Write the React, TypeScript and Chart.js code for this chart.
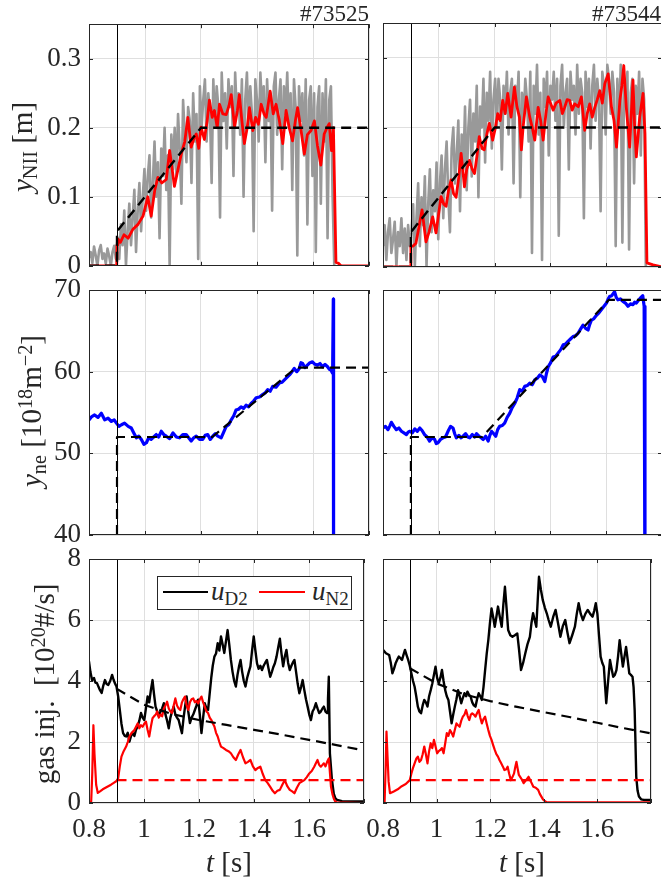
import React, { useEffect, useRef } from "react";
import { Chart, registerables } from "chart.js";
Chart.register(...registerables);

const SERIF = '"Liberation Serif", "Times New Roman", serif';
const AXIS_COLOR = "#262626";
const GRID_COLOR = "#dfdfdf";

const X_MIN = 0.8;
const X_MAX = 1.8;
const T_ONSET = 0.9;
const xTicks = [0.8, 1.0, 1.2, 1.4, 1.6, 1.8];
const xTickLabels = ["0.8", "1", "1.2", "1.4", "1.6", ""];
const yTicksNII = [0, 0.1, 0.2, 0.3];
const yTickLabelsNII = ["0", "0.1", "0.2", "0.3"];
const yTicksNe = [40, 50, 60, 70];
const yTicksGas = [0, 2, 4, 6, 8];
const shots = ["#73525", "#73544"];

// raw N II front position samples (gray), sampled every 6 ms from 0.8 s
const GRAY_T0 = 0.8;
const GRAY_DT = 0.006;
const grayNII_73525 = [
  0.012, 0.02, 0.004, 0.028, 0.015, 0.0, 0.022, 0.03, 0.01, 0.018, 0.003, 0.025, 0.014, 0.0, 0.02, 0.029, 0.01,
  0.04, 0.01, 0.06, 0.03, 0.08, 0.0, 0.05, 0.09, 0.03, 0.07, 0.11, 0.02, 0.08, 0.12, 0.05, 0.1, 0.14,
  0.08, 0.13, 0.16, 0.07, 0.12, 0.18, 0.1, 0.15, 0.04, 0.17, 0.13, 0.2, 0.11, 0.16, 0.0, 0.19, 0.14,
  0.2, 0.13, 0.22, 0.17, 0.09, 0.24, 0.19, 0.15, 0.23, 0.21, 0.12, 0.25, 0.18, 0.22, 0.01, 0.26, 0.2,
  0.24, 0.27, 0.18, 0.25, 0.22, 0.12, 0.27, 0.2, 0.26, 0.23, 0.07, 0.28, 0.21, 0.25, 0.17, 0.27, 0.23,
  0.26, 0.13, 0.28, 0.22, 0.25, 0.19, 0.27, 0.1, 0.24, 0.28, 0.2, 0.26, 0.22, 0.05, 0.27, 0.24, 0.18,
  0.28, 0.23, 0.26, 0.15, 0.27, 0.21, 0.25, 0.08, 0.26, 0.28, 0.19, 0.24, 0.27, 0.14, 0.26, 0.22, 0.28,
  0.2, 0.25, 0.11, 0.27, 0.23, 0.015, 0.26, 0.21, 0.25, 0.16, 0.27, 0.06, 0.24, 0.26, 0.13, 0.25, 0.02,
  0.23, 0.26, 0.09, 0.25, 0.18, 0.27, 0.04, 0.24, 0.26, 0.1, 0.0,
];
const grayNII_73544 = [
  0.03, 0.06, 0.01, 0.05, 0.07, 0.02, 0.04, 0.065, 0.0, 0.05, 0.03, 0.07, 0.02, 0.055, 0.01, 0.06, 0.03,
  0.05, 0.09, 0.0, 0.07, 0.12, 0.03, 0.1, 0.06, 0.13, 0.0, 0.09, 0.14, 0.05, 0.11, 0.08, 0.15, 0.04,
  0.12, 0.16, 0.07, 0.14, 0.18, 0.1, 0.05, 0.17, 0.2, 0.12, 0.16, 0.21, 0.08, 0.19, 0.14, 0.23, 0.11,
  0.2, 0.24, 0.13, 0.22, 0.18, 0.26, 0.1, 0.23, 0.2, 0.27, 0.15, 0.25, 0.21, 0.28, 0.17, 0.24, 0.27,
  0.2, 0.27, 0.24, 0.14, 0.26, 0.22, 0.28, 0.19, 0.25, 0.27, 0.12, 0.26, 0.23, 0.28, 0.1, 0.25, 0.21,
  0.27, 0.24, 0.18, 0.28, 0.02, 0.26, 0.22, 0.29, 0.19, 0.25, 0.01, 0.27, 0.23, 0.28, 0.16, 0.26, 0.24,
  0.28, 0.21, 0.27, 0.045, 0.26, 0.29, 0.2, 0.25, 0.27, 0.14, 0.28, 0.24, 0.26, 0.19, 0.29, 0.22, 0.27,
  0.25, 0.07, 0.28, 0.23, 0.27, 0.17, 0.26, 0.29, 0.21, 0.27, 0.24, 0.08, 0.28, 0.26, 0.19, 0.29, 0.27,
  0.22, 0.28, 0.25, 0.03, 0.27, 0.2, 0.29, 0.035, 0.26, 0.23, 0.28, 0.025, 0.25, 0.27, 0.12, 0.26, 0.22,
  0.28, 0.16, 0.27, 0.24, 0.0,
];

// filtered N II front (red), [t, y]
const redNII_73525 = [
  [0.8, 0], [0.899, 0], [0.9, 0.03], [0.903, 0.039], [0.912, 0.034], [0.925, 0.045], [0.94, 0.04],
  [0.957, 0.053], [0.975, 0.06], [0.993, 0.072], [1.01, 0.1], [1.022, 0.072], [1.035, 0.11],
  [1.046, 0.128], [1.06, 0.12], [1.076, 0.125], [1.088, 0.167], [1.097, 0.14], [1.105, 0.115],
  [1.118, 0.14], [1.129, 0.161], [1.142, 0.18], [1.153, 0.215], [1.165, 0.172], [1.175, 0.185],
  [1.183, 0.191], [1.192, 0.17], [1.2, 0.201], [1.212, 0.183], [1.222, 0.21], [1.23, 0.24],
  [1.24, 0.215], [1.248, 0.225], [1.258, 0.2], [1.266, 0.234], [1.278, 0.22], [1.29, 0.219],
  [1.3, 0.232], [1.308, 0.248], [1.32, 0.201], [1.33, 0.225], [1.337, 0.248], [1.346, 0.21],
  [1.355, 0.177], [1.365, 0.2], [1.373, 0.229], [1.385, 0.196], [1.395, 0.215], [1.405, 0.205],
  [1.415, 0.234], [1.425, 0.22], [1.433, 0.215], [1.447, 0.253], [1.458, 0.22], [1.468, 0.234],
  [1.48, 0.21], [1.492, 0.177], [1.504, 0.225], [1.515, 0.2], [1.527, 0.181], [1.537, 0.21],
  [1.545, 0.229], [1.556, 0.2], [1.569, 0.162], [1.58, 0.19], [1.593, 0.196], [1.605, 0.21],
  [1.616, 0.174], [1.628, 0.146], [1.64, 0.191], [1.65, 0.2], [1.658, 0.206], [1.666, 0.167],
  [1.673, 0.2], [1.682, 0.005], [1.69, 0.004], [1.7, 0.0], [1.8, 0.0],
];
const redNII_73544 = [
  [0.8, 0], [0.899, 0], [0.9, 0.03], [0.908, 0.03], [0.918, 0.034], [0.93, 0.06], [0.94, 0.082],
  [0.954, 0.036], [0.965, 0.05], [0.978, 0.072], [0.99, 0.049], [1.008, 0.101], [1.018, 0.09],
  [1.026, 0.087], [1.035, 0.11], [1.044, 0.125], [1.053, 0.105], [1.062, 0.1], [1.072, 0.13],
  [1.08, 0.163], [1.092, 0.115], [1.1, 0.14], [1.11, 0.153], [1.12, 0.14], [1.128, 0.134],
  [1.137, 0.16], [1.145, 0.187], [1.155, 0.17], [1.163, 0.168], [1.172, 0.19], [1.181, 0.206],
  [1.193, 0.182], [1.203, 0.2], [1.211, 0.22], [1.22, 0.21], [1.229, 0.239], [1.238, 0.22],
  [1.247, 0.249], [1.259, 0.215], [1.271, 0.258], [1.28, 0.23], [1.289, 0.215], [1.296, 0.168],
  [1.302, 0.2], [1.314, 0.244], [1.326, 0.215], [1.335, 0.2], [1.344, 0.182], [1.356, 0.229],
  [1.365, 0.21], [1.374, 0.182], [1.384, 0.22], [1.392, 0.244], [1.41, 0.225], [1.42, 0.235],
  [1.434, 0.239], [1.443, 0.22], [1.451, 0.229], [1.46, 0.24], [1.469, 0.239], [1.478, 0.225],
  [1.487, 0.234], [1.5, 0.23], [1.511, 0.244], [1.523, 0.196], [1.532, 0.22], [1.541, 0.234],
  [1.55, 0.215], [1.559, 0.229], [1.568, 0.24], [1.577, 0.253], [1.586, 0.235], [1.595, 0.263],
  [1.607, 0.277], [1.619, 0.229], [1.628, 0.21], [1.637, 0.172], [1.649, 0.239], [1.656, 0.26],
  [1.663, 0.289], [1.672, 0.229], [1.684, 0.172], [1.69, 0.22], [1.696, 0.268], [1.702, 0.2],
  [1.708, 0.158], [1.72, 0.215], [1.732, 0.249], [1.739, 0.191], [1.746, 0.006], [1.768, 0.003],
  [1.8, 0.0],
];
const refNII_73525 = [[0.8, 0], [0.9, 0], [0.9, 0.05], [1.2, 0.2], [1.8, 0.2]];
const refNII_73544 = [[0.8, 0], [0.9, 0], [0.9, 0.05], [1.2, 0.2], [1.8, 0.2]];

// line-integrated density (blue)
const ne_73525 = [
  [0.8, 54.1], [0.81, 54.5], [0.82, 54.7], [0.832, 54.4], [0.844, 54.9], [0.856, 54.1], [0.868, 54.3],
  [0.88, 53.9], [0.89, 54.1], [0.898, 53.7], [0.907, 53.3], [0.916, 53.5], [0.927, 53.7], [0.94, 53.3],
  [0.951, 53.1], [0.96, 52.5], [0.969, 51.9], [0.978, 52.1], [0.987, 51.7], [0.996, 51.1], [1.005, 51.3],
  [1.013, 51.9], [1.022, 51.7], [1.031, 52.0], [1.04, 52.3], [1.049, 52.0], [1.058, 52.7], [1.067, 52.3],
  [1.076, 52.1], [1.088, 51.8], [1.1, 52.5], [1.112, 52.0], [1.123, 51.9], [1.135, 52.3], [1.147, 52.3],
  [1.156, 51.9], [1.165, 51.5], [1.174, 51.9], [1.183, 52.1], [1.195, 51.7], [1.206, 51.7], [1.215, 52.2],
  [1.224, 52.3], [1.233, 51.7], [1.242, 52.1], [1.251, 52.4], [1.26, 52.1], [1.272, 51.9], [1.281, 52.6],
  [1.29, 53.3], [1.299, 53.5], [1.308, 54.1], [1.317, 54.6], [1.325, 55.3], [1.334, 55.4], [1.343, 55.7],
  [1.352, 55.5], [1.361, 55.9], [1.37, 55.7], [1.379, 56.1], [1.388, 56.4], [1.397, 56.8], [1.409, 56.9],
  [1.42, 57.2], [1.429, 57.4], [1.438, 57.8], [1.447, 57.6], [1.456, 58.2], [1.468, 58.1], [1.48, 58.6],
  [1.489, 58.7], [1.498, 59.0], [1.507, 59.3], [1.516, 59.6], [1.525, 60.0], [1.533, 60.4], [1.542, 60.0],
  [1.551, 60.4], [1.557, 61.1], [1.563, 61.0], [1.571, 60.5], [1.58, 60.8], [1.589, 61.1], [1.598, 61.2],
  [1.607, 60.9], [1.616, 60.8], [1.625, 61.0], [1.634, 60.6], [1.643, 60.9], [1.652, 60.6], [1.658, 60.3],
  [1.664, 60.2], [1.67, 59.8], [1.6725, 68.9], [1.6735, 30],
];
const ne_73544 = [
  [0.8, 53.1], [0.809, 53.3], [0.818, 52.9], [0.825, 53.4], [0.83, 53.8], [0.839, 53.3], [0.848, 52.9],
  [0.857, 53.1], [0.866, 52.7], [0.875, 52.5], [0.884, 52.3], [0.89, 52.6], [0.896, 52.7], [0.905, 52.5],
  [0.914, 53.0], [0.923, 52.7], [0.932, 53.1], [0.94, 52.8], [0.949, 52.3], [0.958, 52.0], [0.967, 51.5],
  [0.976, 51.9], [0.985, 51.7], [0.991, 51.2], [0.997, 51.3], [1.006, 51.7], [1.015, 51.9], [1.024, 52.0],
  [1.033, 52.7], [1.042, 53.3], [1.051, 53.1], [1.057, 52.4], [1.063, 51.9], [1.072, 52.2], [1.08, 51.9],
  [1.087, 52.1], [1.096, 52.4], [1.104, 52.0], [1.111, 51.9], [1.12, 52.3], [1.128, 52.0], [1.135, 52.4],
  [1.144, 52.1], [1.152, 51.9], [1.159, 51.7], [1.168, 52.1], [1.177, 51.5], [1.183, 52.2], [1.189, 52.7],
  [1.197, 52.4], [1.204, 52.1], [1.211, 52.9], [1.218, 53.3], [1.227, 53.4], [1.236, 53.7], [1.245, 54.4],
  [1.254, 54.9], [1.263, 55.6], [1.272, 56.1], [1.281, 56.8], [1.29, 57.8], [1.299, 57.6], [1.308, 58.2],
  [1.317, 58.3], [1.326, 58.6], [1.335, 58.4], [1.344, 59.0], [1.353, 59.2], [1.362, 59.6], [1.371, 59.4],
  [1.38, 58.8], [1.386, 59.8], [1.392, 60.6], [1.401, 61.1], [1.41, 61.8], [1.419, 61.9], [1.428, 62.3],
  [1.437, 62.7], [1.446, 63.3], [1.455, 63.4], [1.463, 63.7], [1.472, 64.0], [1.481, 64.3], [1.49, 64.4],
  [1.499, 64.7], [1.508, 65.2], [1.517, 65.7], [1.526, 65.3], [1.535, 65.1], [1.541, 65.8], [1.547, 66.3],
  [1.556, 66.5], [1.565, 66.9], [1.574, 67.2], [1.583, 67.6], [1.592, 68.0], [1.601, 68.4], [1.607, 68.9],
  [1.612, 69.2], [1.62, 69.3], [1.63, 69.8], [1.636, 69.1], [1.642, 68.8], [1.651, 68.9], [1.66, 68.6],
  [1.669, 68.4], [1.678, 68.0], [1.687, 68.3], [1.696, 68.2], [1.702, 68.5], [1.708, 68.4], [1.715, 68.7],
  [1.722, 69.0], [1.731, 69.3], [1.736, 68.0], [1.739, 30],
];
const refNe_73525 = [[0.9, 40], [0.9, 52], [1.24, 52], [1.54, 60.5], [1.8, 60.5]];
const refNe_73544 = [[0.9, 40], [0.9, 52], [1.155, 52], [1.61, 68.8], [1.8, 68.8]];

// gas injection (D2 black, N2 red)
const uD2_73525 = [
  [0.8, 4.64], [0.805, 4.3], [0.811, 4.03], [0.818, 4.1], [0.823, 3.95], [0.829, 3.93], [0.835, 3.8],
  [0.84, 3.7], [0.846, 3.61], [0.852, 3.85], [0.858, 4.03], [0.864, 3.9], [0.87, 3.87], [0.877, 4.0],
  [0.884, 4.2], [0.889, 4.05], [0.894, 3.93], [0.9, 3.82], [0.906, 3.5], [0.912, 3.05], [0.918, 2.6],
  [0.924, 2.29], [0.93, 2.2], [0.935, 2.18], [0.941, 2.3], [0.947, 2.01], [0.953, 2.2], [0.959, 2.29],
  [0.965, 2.2], [0.971, 2.4], [0.977, 2.51], [0.983, 2.7], [0.989, 2.95], [0.995, 2.8], [1.001, 2.72],
  [1.007, 3.1], [1.013, 3.49], [1.019, 3.3], [1.025, 3.7], [1.031, 4.03], [1.036, 3.6], [1.042, 3.16],
  [1.048, 3.0], [1.054, 2.84], [1.06, 3.0], [1.066, 3.1], [1.072, 3.27], [1.078, 2.9], [1.084, 2.7],
  [1.09, 2.45], [1.096, 2.8], [1.102, 3.0], [1.108, 3.16], [1.114, 2.9], [1.12, 2.8], [1.126, 2.72],
  [1.132, 2.5], [1.138, 2.29], [1.144, 2.8], [1.15, 3.2], [1.155, 3.49], [1.161, 3.0], [1.167, 2.62],
  [1.173, 2.8], [1.179, 2.9], [1.185, 3.05], [1.191, 3.2], [1.197, 3.39], [1.203, 2.9], [1.209, 2.29],
  [1.215, 2.8], [1.221, 3.27], [1.227, 3.1], [1.233, 3.05], [1.239, 3.6], [1.245, 4.14], [1.25, 4.5],
  [1.256, 4.8], [1.262, 4.9], [1.268, 5.24], [1.274, 5.0], [1.28, 5.46], [1.286, 5.2], [1.292, 4.92],
  [1.298, 5.3], [1.304, 5.67], [1.31, 5.2], [1.316, 4.69], [1.322, 4.3], [1.328, 4.0], [1.334, 3.82],
  [1.34, 4.2], [1.346, 4.5], [1.351, 4.69], [1.357, 4.3], [1.363, 4.0], [1.369, 3.82], [1.375, 4.1],
  [1.381, 4.3], [1.387, 4.48], [1.393, 5.0], [1.399, 5.46], [1.405, 5.0], [1.411, 4.58], [1.417, 4.4],
  [1.423, 4.5], [1.429, 4.36], [1.435, 4.5], [1.441, 4.6], [1.447, 4.69], [1.453, 4.4], [1.459, 4.14],
  [1.465, 4.3], [1.47, 4.45], [1.476, 4.58], [1.482, 4.8], [1.488, 5.1], [1.494, 5.39], [1.5, 4.9],
  [1.506, 4.48], [1.512, 4.8], [1.518, 5.02], [1.524, 4.6], [1.53, 4.36], [1.536, 4.5], [1.541, 4.6],
  [1.547, 4.69], [1.553, 4.3], [1.559, 3.9], [1.565, 3.6], [1.571, 3.8], [1.577, 4.03], [1.583, 3.7],
  [1.589, 3.4], [1.595, 3.16], [1.601, 2.9], [1.607, 2.72], [1.613, 3.0], [1.619, 3.1], [1.625, 3.27],
  [1.631, 3.1], [1.637, 2.95], [1.643, 3.0], [1.649, 3.1], [1.654, 3.16], [1.66, 3.0], [1.666, 2.95],
  [1.669, 3.4], [1.672, 4.14], [1.676, 1.63], [1.683, 0.8], [1.69, 0.31], [1.696, 0.15], [1.702, 0.1],
  [1.72, 0.06], [1.8, 0.05],
];
const uN2_73525 = [
  [0.8, 0], [0.808, 0.05], [0.812, 1.0], [0.816, 2.55], [0.82, 1.6], [0.826, 0.6], [0.832, 0.33],
  [0.84, 0.38], [0.85, 0.45], [0.86, 0.5], [0.87, 0.55], [0.88, 0.6], [0.89, 0.66], [0.9, 0.72],
  [0.906, 0.81], [0.912, 1.2], [0.918, 1.52], [0.926, 1.7], [0.935, 1.85], [0.941, 2.0], [0.947, 2.18],
  [0.955, 2.3], [0.965, 2.39], [0.971, 2.5], [0.977, 2.61], [0.983, 2.45], [0.989, 2.55], [0.995, 2.5],
  [1.001, 2.6], [1.007, 2.67], [1.013, 2.4], [1.019, 2.18], [1.025, 2.5], [1.031, 2.78], [1.037, 2.85],
  [1.043, 2.9], [1.048, 3.0], [1.054, 2.8], [1.06, 2.9], [1.066, 2.84], [1.072, 3.1], [1.078, 3.2],
  [1.084, 3.32], [1.09, 3.1], [1.096, 3.0], [1.102, 2.95], [1.108, 3.2], [1.114, 3.43], [1.12, 3.2],
  [1.126, 3.1], [1.132, 3.05], [1.138, 3.3], [1.143, 3.4], [1.149, 3.49], [1.155, 3.2], [1.161, 3.05],
  [1.167, 3.3], [1.173, 3.4], [1.179, 3.43], [1.185, 3.3], [1.191, 3.35], [1.197, 3.27], [1.203, 3.4],
  [1.209, 3.49], [1.215, 3.3], [1.221, 3.16], [1.227, 3.0], [1.233, 2.95], [1.239, 2.8], [1.245, 2.72],
  [1.251, 2.6], [1.256, 2.51], [1.262, 2.3], [1.268, 2.18], [1.274, 2.0], [1.28, 1.85], [1.289, 1.8],
  [1.298, 1.74], [1.307, 1.7], [1.316, 1.63], [1.325, 1.5], [1.334, 1.41], [1.343, 1.6], [1.351, 1.74],
  [1.36, 1.5], [1.369, 1.3], [1.378, 1.35], [1.387, 1.41], [1.396, 1.2], [1.405, 1.08], [1.414, 1.15],
  [1.423, 1.19], [1.432, 0.95], [1.441, 0.75], [1.45, 0.65], [1.459, 0.53], [1.468, 0.4], [1.476, 0.32],
  [1.485, 0.4], [1.494, 0.43], [1.503, 0.6], [1.512, 0.75], [1.521, 0.55], [1.53, 0.43], [1.539, 0.38],
  [1.547, 0.32], [1.556, 0.5], [1.565, 0.65], [1.574, 0.7], [1.583, 0.75], [1.592, 0.85], [1.601, 0.97],
  [1.61, 1.05], [1.619, 1.19], [1.625, 1.3], [1.631, 1.41], [1.637, 1.25], [1.643, 1.19], [1.649, 1.25],
  [1.654, 1.3], [1.66, 1.2], [1.666, 1.35], [1.672, 1.46], [1.676, 1.0], [1.68, 0.53], [1.685, 0.3],
  [1.69, 0.15], [1.695, 0.06], [1.7, 0.02], [1.8, 0.0],
];
const uD2_73544 = [
  [0.8, 5.02], [0.811, 4.91], [0.823, 4.85], [0.829, 4.6], [0.835, 4.25], [0.841, 4.4], [0.847, 4.58],
  [0.853, 4.7], [0.859, 4.8], [0.865, 4.75], [0.871, 4.69], [0.876, 4.85], [0.882, 5.02], [0.888, 4.85],
  [0.894, 4.69], [0.9, 4.5], [0.906, 4.25], [0.912, 4.0], [0.918, 3.81], [0.924, 3.5], [0.93, 3.16],
  [0.936, 3.0], [0.942, 2.94], [0.948, 3.2], [0.954, 3.38], [0.96, 3.3], [0.966, 3.16], [0.972, 3.5],
  [0.978, 3.7], [0.984, 3.92], [0.99, 4.2], [0.996, 4.47], [1.002, 4.1], [1.008, 3.92], [1.014, 4.1],
  [1.02, 4.36], [1.026, 4.0], [1.032, 3.7], [1.038, 3.5], [1.044, 3.38], [1.05, 3.0], [1.056, 2.61],
  [1.062, 2.9], [1.068, 3.16], [1.074, 3.4], [1.08, 3.7], [1.086, 3.5], [1.092, 3.27], [1.098, 3.45],
  [1.104, 3.6], [1.11, 3.5], [1.115, 3.65], [1.121, 3.55], [1.127, 3.49], [1.133, 3.3], [1.139, 3.2],
  [1.145, 3.16], [1.151, 3.4], [1.157, 3.6], [1.163, 3.5], [1.169, 3.38], [1.175, 3.8], [1.181, 4.36],
  [1.187, 4.9], [1.193, 5.34], [1.199, 5.9], [1.205, 6.38], [1.211, 6.1], [1.217, 5.78], [1.223, 6.1],
  [1.229, 6.44], [1.236, 6.1], [1.243, 5.78], [1.249, 6.5], [1.255, 7.09], [1.261, 6.4], [1.267, 5.67],
  [1.275, 5.5], [1.283, 5.45], [1.292, 5.5], [1.301, 5.56], [1.308, 5.0], [1.315, 4.36], [1.323, 4.6],
  [1.331, 4.91], [1.339, 5.2], [1.348, 5.45], [1.354, 5.9], [1.36, 6.22], [1.366, 6.0], [1.372, 5.78],
  [1.377, 6.6], [1.382, 7.42], [1.389, 7.0], [1.396, 6.66], [1.404, 6.4], [1.411, 6.22], [1.418, 6.0],
  [1.426, 5.78], [1.435, 6.1], [1.444, 6.33], [1.453, 5.9], [1.462, 5.45], [1.471, 5.8], [1.48, 6.0],
  [1.488, 5.6], [1.496, 5.24], [1.506, 5.5], [1.516, 5.78], [1.523, 6.2], [1.53, 6.55], [1.538, 6.2],
  [1.546, 6.0], [1.555, 6.2], [1.564, 6.33], [1.573, 6.2], [1.582, 6.11], [1.588, 6.3], [1.594, 6.55],
  [1.6, 6.2], [1.606, 5.5], [1.612, 4.8], [1.618, 4.6], [1.624, 4.47], [1.629, 3.8], [1.633, 3.27],
  [1.64, 4.0], [1.647, 4.69], [1.653, 4.4], [1.659, 4.14], [1.665, 4.2], [1.671, 4.36], [1.677, 4.8],
  [1.683, 5.34], [1.689, 4.9], [1.695, 4.47], [1.701, 4.8], [1.707, 5.12], [1.713, 4.7], [1.719, 4.25],
  [1.725, 4.2], [1.731, 4.14], [1.735, 3.8], [1.739, 3.05], [1.742, 2.0], [1.745, 0.86], [1.75, 0.4],
  [1.755, 0.21], [1.763, 0.12], [1.773, 0.1], [1.8, 0.1],
];
const uN2_73544 = [
  [0.8, 0], [0.806, 0.05], [0.81, 1.2], [0.813, 2.34], [0.817, 1.5], [0.821, 0.7], [0.826, 0.32],
  [0.84, 0.38], [0.855, 0.45], [0.87, 0.55], [0.885, 0.62], [0.9, 0.75], [0.906, 0.97], [0.912, 1.15],
  [0.918, 1.3], [0.924, 1.45], [0.93, 1.52], [0.936, 1.35], [0.942, 1.41], [0.948, 1.6], [0.954, 1.85],
  [0.96, 1.6], [0.966, 1.3], [0.972, 1.7], [0.978, 1.96], [0.984, 1.8], [0.99, 2.07], [0.996, 1.85],
  [1.002, 1.63], [1.008, 1.7], [1.014, 1.74], [1.02, 1.8], [1.026, 1.63], [1.032, 1.95], [1.038, 2.29],
  [1.044, 2.2], [1.05, 2.39], [1.056, 2.3], [1.062, 2.18], [1.068, 2.4], [1.074, 2.61], [1.08, 2.55],
  [1.086, 2.5], [1.092, 2.7], [1.098, 2.83], [1.104, 2.9], [1.11, 3.05], [1.116, 2.85], [1.122, 2.72],
  [1.128, 2.9], [1.133, 2.94], [1.139, 2.9], [1.145, 2.83], [1.151, 2.95], [1.157, 3.05], [1.163, 2.8],
  [1.169, 2.61], [1.175, 2.75], [1.181, 2.83], [1.187, 2.6], [1.193, 2.39], [1.199, 2.2], [1.205, 2.07],
  [1.211, 1.9], [1.217, 1.74], [1.223, 1.6], [1.229, 1.52], [1.235, 1.4], [1.241, 1.3], [1.247, 1.2],
  [1.253, 1.08], [1.259, 1.1], [1.265, 1.19], [1.271, 0.95], [1.277, 0.75], [1.283, 0.85], [1.289, 0.97],
  [1.294, 1.2], [1.298, 1.35], [1.303, 1.1], [1.307, 0.92], [1.316, 0.8], [1.325, 0.65], [1.334, 0.75],
  [1.343, 0.86], [1.352, 0.7], [1.361, 0.53], [1.37, 0.5], [1.379, 0.43], [1.385, 0.3], [1.391, 0.21],
  [1.397, 0.12], [1.402, 0.08], [1.41, 0.03], [1.5, 0.02], [1.8, 0.02],
];
const refD2_73525 = [[0.9, 3.75], [1.0, 3.22], [1.1, 2.92], [1.2, 2.72], [1.3, 2.56], [1.4, 2.4], [1.5, 2.24], [1.6, 2.07], [1.7, 1.9], [1.8, 1.72]];
const refD2_73544 = [[0.9, 4.42], [1.0, 3.92], [1.1, 3.57], [1.2, 3.34], [1.3, 3.15], [1.4, 2.98], [1.5, 2.81], [1.6, 2.63], [1.7, 2.45], [1.8, 2.28]];
const refN2_73525 = [[0.9, 0.75], [1.8, 0.75]];
const refN2_73544 = [[0.9, 0.75], [1.8, 0.75]];

type Pt = { x: number; y: number };
const xy = (pairs: number[][]): Pt[] => pairs.map(([x, y]) => ({ x, y }));
const sampled = (vals: number[]): Pt[] => vals.map((y, i) => ({ x: GRAY_T0 + i * GRAY_DT, y }));

type Series = { data: Pt[]; color: string; width: number; dash?: number[]; order: number };

const boxPlugin = {
  id: "matlabBox",
  afterDatasetsDraw(chart: any) {
    const { ctx, chartArea: a, scales } = chart;
    const L = 4;
    ctx.save();
    // onset marker (t = 0.9 s), thin solid black
    const xo = Math.round(scales.x.getPixelForValue(T_ONSET)) + 0.5;
    ctx.strokeStyle = "#000000";
    ctx.lineWidth = 1;
    ctx.beginPath();
    ctx.moveTo(xo, a.top);
    ctx.lineTo(xo, a.bottom);
    ctx.stroke();
    ctx.strokeStyle = AXIS_COLOR;
    ctx.beginPath();
    for (const t of scales.x.ticks) {
      const px = Math.round(scales.x.getPixelForValue(t.value)) + 0.5;
      ctx.moveTo(px, a.bottom);
      ctx.lineTo(px, a.bottom - L);
      ctx.moveTo(px, a.top);
      ctx.lineTo(px, a.top + L);
    }
    for (const t of scales.y.ticks) {
      const py = Math.round(scales.y.getPixelForValue(t.value)) + 0.5;
      ctx.moveTo(a.left, py);
      ctx.lineTo(a.left + L, py);
      ctx.moveTo(a.right, py);
      ctx.lineTo(a.right - L, py);
    }
    ctx.stroke();
    ctx.strokeRect(Math.round(a.left) + 0.5, Math.round(a.top) + 0.5, Math.round(a.right - a.left) - 1, Math.round(a.bottom - a.top) - 1);
    ctx.restore();
  },
};

type PanelProps = {
  left: number; top: number; width: number; height: number;
  area: { l: number; t: number; r: number; b: number };
  yMin: number; yMax: number; yTicks: number[]; yLabels?: string[];
  showY: boolean; showX: boolean; series: Series[];
};

function Panel(p: PanelProps) {
  const ref = useRef<HTMLCanvasElement>(null);
  useEffect(() => {
    const tickFont = { family: SERIF, size: 27 };
    const chart = new Chart(ref.current as HTMLCanvasElement, {
      type: "line",
      data: {
        datasets: p.series.map((s) => ({
          data: s.data,
          borderColor: s.color,
          borderWidth: s.width,
          borderDash: s.dash || [],
          pointRadius: 0,
          tension: 0,
          fill: false,
          order: s.order,
          borderJoinStyle: "round",
        })) as any,
      },
      options: {
        animation: false,
        responsive: false,
        devicePixelRatio: 1,
        events: [],
        parsing: false as any,
        layout: { padding: { left: 0, top: p.area.t, right: p.width - p.area.r, bottom: 0 } },
        plugins: { legend: { display: false }, tooltip: { enabled: false } },
        scales: {
          x: {
            type: "linear",
            min: X_MIN,
            max: X_MAX,
            afterBuildTicks: (s: any) => { s.ticks = xTicks.map((v) => ({ value: v })); },
            afterFit: (s: any) => { s.height = p.height - p.area.b; },
            grid: { color: GRID_COLOR, lineWidth: 1, drawTicks: false },
            border: { display: false },
            ticks: {
              display: p.showX,
              autoSkip: false,
              maxRotation: 0,
              minRotation: 0,
              padding: 11,
              color: AXIS_COLOR,
              font: tickFont,
              callback: (_v: any, i: number) => xTickLabels[i],
            },
          },
          y: {
            type: "linear",
            min: p.yMin,
            max: p.yMax,
            afterBuildTicks: (s: any) => { s.ticks = p.yTicks.map((v) => ({ value: v })); },
            afterFit: (s: any) => { s.width = p.area.l; },
            grid: { color: GRID_COLOR, lineWidth: 1, drawTicks: false },
            border: { display: false },
            ticks: {
              display: p.showY,
              autoSkip: false,
              padding: 8,
              color: AXIS_COLOR,
              font: tickFont,
              callback: (v: any, i: number) => (p.yLabels ? p.yLabels[i] : String(v)),
            },
          },
        },
      },
      plugins: [boxPlugin],
    });
    return () => chart.destroy();
  }, []);
  return (
    <canvas
      ref={ref}
      width={p.width}
      height={p.height}
      style={{ position: "absolute", left: p.left, top: p.top, width: p.width, height: p.height }}
    />
  );
}

const ASC = 0.8375; // baseline offset for line-height 1 (Liberation Serif)

function Text({ x, y, size, align = "left", children, style }: any) {
  const tx = align === "center" ? "-50%" : align === "right" ? "-100%" : "0";
  return (
    <div
      style={{
        position: "absolute",
        left: x,
        top: y - ASC * size,
        fontSize: size,
        lineHeight: 1,
        fontFamily: SERIF,
        color: AXIS_COLOR,
        whiteSpace: "nowrap",
        transform: `translateX(${tx})`,
        ...style,
      }}
    >
      {children}
    </div>
  );
}

function VText({ x, y, size, children }: any) {
  return (
    <div style={{ position: "absolute", left: x, top: y, width: 0, height: 0, transform: "rotate(-90deg)" }}>
      <div
        style={{
          position: "absolute",
          left: 0,
          top: 0,
          fontSize: size,
          lineHeight: 1,
          fontFamily: SERIF,
          color: AXIS_COLOR,
          whiteSpace: "nowrap",
          transform: `translate(-50%, ${-ASC * size}px)`,
        }}
      >
        {children}
      </div>
    </div>
  );
}

const Sub = ({ children }: any) => (
  <span style={{ fontSize: "0.7em", verticalAlign: "-0.25em" }}>{children}</span>
);
const Sup = ({ children }: any) => (
  <span style={{ fontSize: "0.7em", verticalAlign: "0.45em" }}>{children}</span>
);
const I = ({ children }: any) => <span style={{ fontStyle: "italic" }}>{children}</span>;

export default function App() {
  const cols = [
    { left: 0, width: 375, l: 89, r: 369, showY: true },
    { left: 345, width: 317, l: 38, r: 317, showY: false },
  ];
  const rows = [
    { top: 0, height: 290, t: 23, b: 267 },
    { top: 260, height: 300, t: 30, b: 275 },
    { top: 530, height: 351, t: 29, b: 273 },
  ];
  const grays = [grayNII_73525, grayNII_73544];
  const reds = [redNII_73525, redNII_73544];
  const refsNII = [refNII_73525, refNII_73544];
  const nes = [ne_73525, ne_73544];
  const refsNe = [refNe_73525, refNe_73544];
  const d2s = [uD2_73525, uD2_73544];
  const n2s = [uN2_73525, uN2_73544];
  const refsD2 = [refD2_73525, refD2_73544];
  const refsN2 = [refN2_73525, refN2_73544];
  const DASH = [10, 6];

  const panels: any[] = [];
  cols.forEach((c, ci) => {
    rows.forEach((r, ri) => {
      const base = {
        key: `${ci}-${ri}`,
        left: c.left, top: r.top, width: c.width, height: r.height,
        area: { l: c.l, t: r.t, r: c.r, b: r.b },
        showY: c.showY, showX: ri === 2,
      };
      if (ri === 0) {
        panels.push({
          ...base, yMin: 0, yMax: 0.35, yTicks: yTicksNII, yLabels: yTickLabelsNII,
          series: [
            { data: sampled(grays[ci]), color: "#999999", width: 2.6, order: 5 },
            { data: xy(reds[ci]), color: "#ff0000", width: 2.8, order: 4 },
            { data: xy(refsNII[ci]), color: "#000000", width: 2.4, dash: DASH, order: 3 },
          ],
        });
      } else if (ri === 1) {
        panels.push({
          ...base, yMin: 40, yMax: 70, yTicks: yTicksNe,
          series: [
            { data: xy(nes[ci]), color: "#0000ff", width: 3.2, order: 5 },
            { data: xy(refsNe[ci]), color: "#000000", width: 2.2, dash: DASH, order: 3 },
          ],
        });
      } else {
        panels.push({
          ...base, yMin: 0, yMax: 8, yTicks: yTicksGas,
          series: [
            { data: xy(d2s[ci]), color: "#000000", width: 2.4, order: 6 },
            { data: xy(n2s[ci]), color: "#ff0000", width: 2.2, order: 5 },
            { data: xy(refsD2[ci]), color: "#000000", width: 2.2, dash: DASH, order: 4 },
            { data: xy(refsN2[ci]), color: "#ff0000", width: 2.2, dash: DASH, order: 3 },
          ],
        });
      }
    });
  });

  return (
    <div style={{ position: "absolute", left: 0, top: 0, width: 661, height: 881, overflow: "hidden", background: "#ffffff" }}>
      {panels.map((pp) => <Panel {...pp} />)}
      <Text x={369} y={21} size={23} align="right">{shots[0]}</Text>
      <Text x={661} y={21} size={23} align="right">{shots[1]}</Text>
      <VText x={32} y={147} size={29}>
        <I>y</I><Sub>NII</Sub>&nbsp;[m]
      </VText>
      <VText x={39} y={411} size={29}>
        <I>y</I><Sub>ne</Sub>&nbsp;[10<Sup>18</Sup>m<Sup>−2</Sup>]
      </VText>
      <VText x={52} y={684} size={29}>
        gas inj.&nbsp;&nbsp;[10<Sup>20</Sup>#/s]
      </VText>
      <Text x={229} y={872} size={29} align="center"><I>t</I>&nbsp;[s]</Text>
      <Text x={522} y={872} size={29} align="center"><I>t</I>&nbsp;[s]</Text>
      <div style={{ position: "absolute", left: 157, top: 576, width: 193, height: 32, border: `1px solid ${AXIS_COLOR}`, background: "#fff" }} />
      <div style={{ position: "absolute", left: 163, top: 591, width: 45, height: 2, background: "#000" }} />
      <div style={{ position: "absolute", left: 259, top: 591, width: 46, height: 2, background: "#ff0000" }} />
      <Text x={211} y={601} size={27}><I>u</I><Sub>D2</Sub></Text>
      <Text x={312} y={601} size={27}><I>u</I><Sub>N2</Sub></Text>
    </div>
  );
}
